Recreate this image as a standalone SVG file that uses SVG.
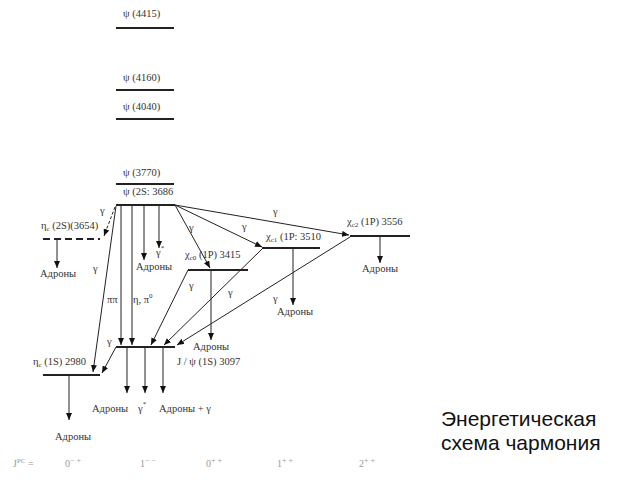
<svg xmlns="http://www.w3.org/2000/svg" width="640" height="480" viewBox="0 0 640 480">
<defs>
<marker id="ah" markerWidth="7" markerHeight="6" refX="7" refY="3" orient="auto" markerUnits="userSpaceOnUse"><path d="M0,0 L7,3 L0,6 z" fill="#111"/></marker>
</defs>
<style>
.lvl{stroke:#222;stroke-width:2;fill:none}
.c{stroke:#222;stroke-width:1;fill:none;marker-end:url(#ah)}
text{font-family:"Liberation Serif","DejaVu Serif",serif;font-size:10.5px;fill:#333}
.j{font-size:10px;fill:#999}
.big{font-family:"Liberation Sans",Arial,sans-serif;font-size:21px;fill:#111}
</style>
<rect width="640" height="480" fill="#fff"/>

<g id="psi4415"><line class="lvl" x1="116" y1="28" x2="174" y2="28"/><text x="123" y="17">ψ (4415)</text></g>
<g id="psi4160"><line class="lvl" x1="116" y1="90" x2="174" y2="90"/><text x="123" y="81">ψ (4160)</text></g>
<g id="psi4040"><line class="lvl" x1="116" y1="119" x2="174" y2="119"/><text x="123" y="110">ψ (4040)</text></g>
<g id="psi3770"><line class="lvl" x1="116" y1="184" x2="174" y2="184"/><text x="123" y="176">ψ (3770)</text></g>
<g id="psi2S"><line class="lvl" x1="116" y1="205" x2="175" y2="205"/><text x="123" y="195">ψ (2S: 3686</text></g>
<g id="etac2S"><line class="lvl" x1="43" y1="239" x2="100" y2="239" stroke-dasharray="7,4"/><text x="41" y="229">η<tspan dy="2" font-size="7">c</tspan><tspan dy="-2"> (2S)(3654)</tspan></text><text x="40" y="277">Адроны</text></g>
<g id="etac1S"><line class="lvl" x1="43" y1="375" x2="100" y2="375"/><text x="33" y="365">η<tspan dy="2" font-size="7">c</tspan><tspan dy="-2"> (1S) 2980</tspan></text><text x="55" y="440">Адроны</text></g>
<g id="jpsi"><line class="lvl" x1="116" y1="347" x2="175" y2="347"/><text x="177" y="365">J / ψ (1S) 3097</text><text x="92" y="412">Адроны</text><text x="138" y="412">γ<tspan dy="-6" font-size="7">*</tspan></text><text x="159" y="412">Адроны + γ</text></g>
<g id="chic0"><line class="lvl" x1="188" y1="270" x2="248" y2="270"/><text x="185" y="258">χ<tspan dy="2" font-size="7">c0</tspan><tspan dy="-2"> (1P) 3415</tspan></text><text x="193" y="350">Адроны</text></g>
<g id="chic1"><line class="lvl" x1="262" y1="248" x2="320" y2="248"/><text x="266" y="240">χ<tspan dy="2" font-size="7">c1</tspan><tspan dy="-2"> (1P: 3510</tspan></text><text x="277" y="315">Адроны</text></g>
<g id="chic2"><line class="lvl" x1="350" y1="236" x2="410" y2="236"/><text x="347" y="225">χ<tspan dy="2" font-size="7">c2</tspan><tspan dy="-2"> (1P) 3556</tspan></text><text x="362" y="272">Адроны</text></g>
<g id="psi2S-products"><text x="136" y="270">Адроны</text><text x="156" y="256">γ<tspan dy="-6" font-size="7">*</tspan></text><text x="107" y="303">ππ</text><text x="133" y="303">η, π<tspan dy="-5" font-size="7">0</tspan></text></g>

<g id="connectors">
<path class="c" d="M115,207 L104,236" stroke-dasharray="3,2"/>
<path class="c" d="M116,206 L93,372"/>
<path class="c" d="M121,205 V345"/>
<path class="c" d="M132,205 V345"/>
<path class="c" d="M144,205 V260"/>
<path class="c" d="M159,205 V248"/>
<path class="c" d="M175,205 L210,268"/>
<path class="c" d="M175,205 L262,247"/>
<path class="c" d="M175,205 L349,235"/>
<path class="c" d="M188,270 L151,345"/>
<path class="c" d="M262,249 L164,345"/>
<path class="c" d="M350,237 L177,345"/>
<path class="c" d="M211,270 V340"/>
<path class="c" d="M293,248 V305"/>
<path class="c" d="M380,236 V263"/>
<path class="c" d="M57,239 V268"/>
<path class="c" d="M116,347 L102,373"/>
<path class="c" d="M127,347 V393"/>
<path class="c" d="M145,347 V393"/>
<path class="c" d="M163,347 V393"/>
<path class="c" d="M69,375 V420"/>
</g>
<g id="gamma-labels">
<text x="100" y="214">γ</text>
<text x="93" y="272">γ</text>
<text x="189" y="231">γ</text>
<text x="242" y="230">γ</text>
<text x="273" y="215">γ</text>
<text x="189" y="289">γ</text>
<text x="228" y="296">γ</text>
<text x="273" y="302">γ</text>
<text x="107" y="345">γ</text>
</g>
<g id="jpc">
<text class="j" x="13" y="467">J<tspan dy="-4" font-size="7">PC</tspan><tspan dy="4"> =</tspan></text>
<text class="j" x="65" y="467">0<tspan dy="-4" font-size="8">− +</tspan></text>
<text class="j" x="140" y="467">1<tspan dy="-4" font-size="8">− −</tspan></text>
<text class="j" x="206" y="467">0<tspan dy="-4" font-size="8">+ +</tspan></text>
<text class="j" x="277" y="467">1<tspan dy="-4" font-size="8">+ +</tspan></text>
<text class="j" x="359" y="467">2<tspan dy="-4" font-size="8">+ +</tspan></text>
</g>
<g id="title">
<text class="big" x="441" y="426">Энергетическая</text>
<text class="big" x="441" y="450">схема чармония</text>
</g>
</svg>
